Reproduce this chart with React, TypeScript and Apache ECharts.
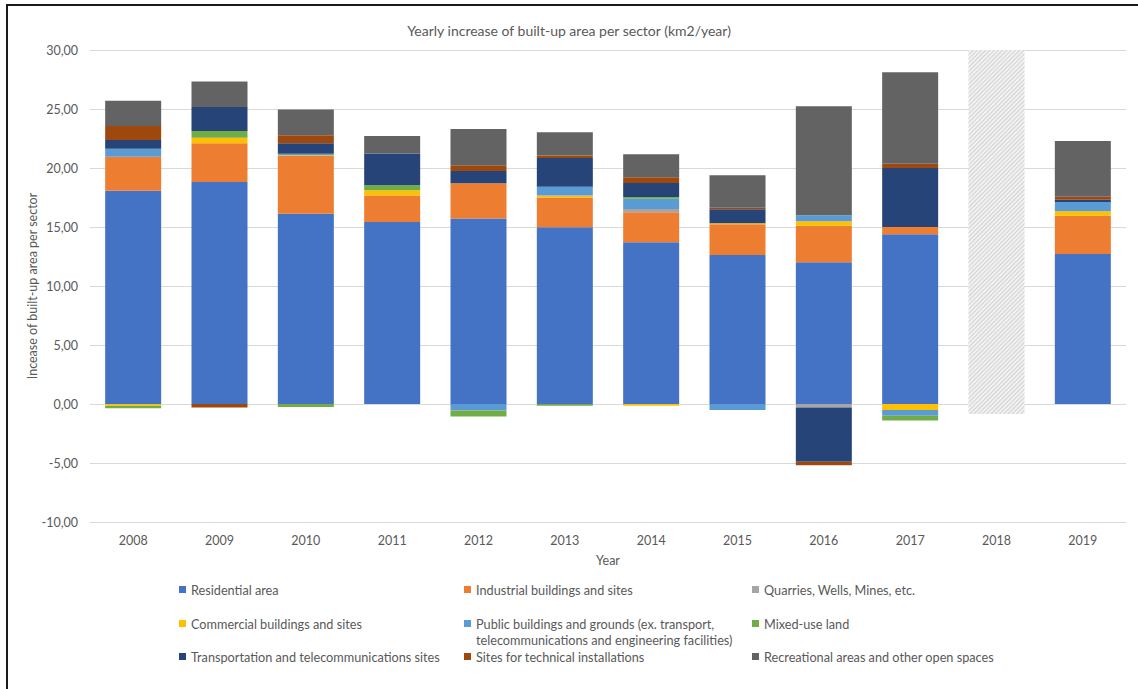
import React, { useEffect, useRef } from "react";
import * as echarts from "echarts";

const years = ["2008", "2009", "2010", "2011", "2012", "2013", "2014", "2015", "2016", "2017", "2018", "2019"];

const residential = [18.08, 18.81, 16.13, 15.42, 15.73, 14.97, 13.7, 12.63, 12.01, 14.38, null, 12.71];
const industrial = [2.88, 3.28, 4.89, 2.24, 2.97, 2.52, 2.54, 2.6, 3.1, 0.62, null, 3.25];
const quarries = [0, 0, 0, 0, 0, 0, 0.29, 0, -0.3, 0, null, 0];
const commercial = [-0.15, 0.48, 0.05, 0.45, 0, 0.19, -0.15, 0.08, 0.37, -0.5, null, 0.37];
const publicB = [0.68, 0, 0.13, 0, -0.55, 0.74, 0.87, -0.5, 0.51, -0.5, null, 0.79];
const mixed = [-0.2, 0.57, -0.25, 0.42, -0.5, -0.15, 0.14, 0, 0, -0.4, null, 0];
const transport = [0.73, 2.03, 0.9, 2.69, 1.05, 2.43, 1.19, 1.19, -4.6, 5.0, null, 0.19];
const technical = [1.19, -0.3, 0.68, 0, 0.48, 0.2, 0.48, 0.14, -0.3, 0.37, null, 0.26];
const recreational = [2.14, 2.15, 2.17, 1.5, 3.07, 1.97, 1.95, 2.74, 9.24, 7.74, null, 4.72];

const noDataTop = [null, null, null, null, null, null, null, null, null, null, 30, null];
const noDataBottom = [null, null, null, null, null, null, null, null, null, null, -0.85, null];

const seriesNames = [
  "Residential area",
  "Industrial buildings and sites",
  "Quarries, Wells, Mines, etc.",
  "Commercial buildings and sites",
  "Public buildings and grounds (ex. transport,",
  "Mixed-use land",
  "Transportation and telecommunications sites",
  "Sites for technical installations",
  "Recreational areas and other open spaces",
];
const seriesData = [residential, industrial, quarries, commercial, publicB, mixed, transport, technical, recreational];
const colors = ["#4472C4", "#ED7D31", "#A5A5A5", "#FFC000", "#5B9BD5", "#70AD47", "#264478", "#9E480E", "#636363"];

const FONT = "Lato";
const TXT = "#595959";

export default function App() {
  const ref = useRef<HTMLDivElement>(null);
  useEffect(() => {
    if (!ref.current) return;
    const chart = echarts.init(ref.current, null, { renderer: "svg" });

    const legendCols = [179, 464, 752];
    const legendRows = [590, 624, 657];
    const legends = seriesNames.map((name, i) => ({
      data: [name],
      left: legendCols[i % 3],
      top: legendRows[Math.floor(i / 3)] - 7,
      itemWidth: 7,
      itemHeight: 7,
      padding: 0,
      icon: "rect",
      selectedMode: false,
      textStyle: { fontFamily: FONT, fontSize: 12.7, color: TXT },
    }));

    const series: any[] = seriesNames.map((name, i) => ({
      name,
      type: "bar",
      stack: "total",
      barWidth: 56,
      data: seriesData[i],
      itemStyle: { color: colors[i] },
    }));
    const hatch = {
      color: "#f1f1f1",
      decal: {
        symbol: "rect",
        symbolSize: 1,
        dashArrayX: [1, 0],
        dashArrayY: [1, 2],
        rotation: -Math.PI / 4,
        color: "#d2d2d2",
      },
    };
    series.push({ name: "nodata1", type: "bar", stack: "total", barWidth: 56, data: noDataTop, itemStyle: hatch, silent: true });
    series.push({ name: "nodata2", type: "bar", stack: "total", barWidth: 56, data: noDataBottom, itemStyle: hatch, silent: true });

    chart.setOption({
      animation: false,
      backgroundColor: "#ffffff",
      title: {
        text: "Yearly increase of built-up area per sector (km2/year)",
        left: "center",
        top: 18,
        textStyle: { fontFamily: FONT, fontSize: 14, fontWeight: "normal", color: TXT },
      },
      legend: legends,
      grid: { left: 90, right: 12, top: 50, bottom: 689 - 522 },
      xAxis: {
        type: "category",
        data: years,
        name: "Year",
        nameLocation: "middle",
        nameGap: 32,
        nameMoveOverlap: false,
        nameTextStyle: { fontFamily: FONT, fontSize: 12.5, color: TXT },
        axisLine: { show: false, onZero: false },
        axisTick: { show: false },
        axisLabel: { fontFamily: FONT, fontSize: 12.5, color: TXT, margin: 12 },
      },
      yAxis: {
        type: "value",
        min: -10,
        max: 30,
        interval: 5,
        name: "Incease of built-up area per sector",
        nameLocation: "middle",
        nameGap: 51,
        nameMoveOverlap: false,
        nameTextStyle: { fontFamily: FONT, fontSize: 12.5, color: TXT },
        axisLine: { show: false },
        axisTick: { show: false },
        splitLine: { lineStyle: { color: "#d9d9d9", width: 1 } },
        axisLabel: {
          fontFamily: FONT,
          fontSize: 12.5,
          color: TXT,
          margin: 12,
          formatter: (v: number) => v.toFixed(2).replace(".", ","),
        },
      },
      graphic: [
        {
          type: "rect",
          silent: true,
          z: 100,
          shape: { x: 7, y: 5, width: 1200, height: 800 },
          style: { fill: "none", stroke: "#1a1a1a", lineWidth: 2 },
        },
        {
          type: "text",
          silent: true,
          left: 476,
          top: 633,
          style: {
            text: "telecommunications and engineering facilities)",
            font: `12.7px ${FONT}`,
            fill: TXT,
          },
        },
      ],
      series,
    });
    return () => chart.dispose();
  }, []);
  return <div ref={ref} style={{ position: "absolute", left: 0, top: 0, width: 1138, height: 689 }} />;
}
